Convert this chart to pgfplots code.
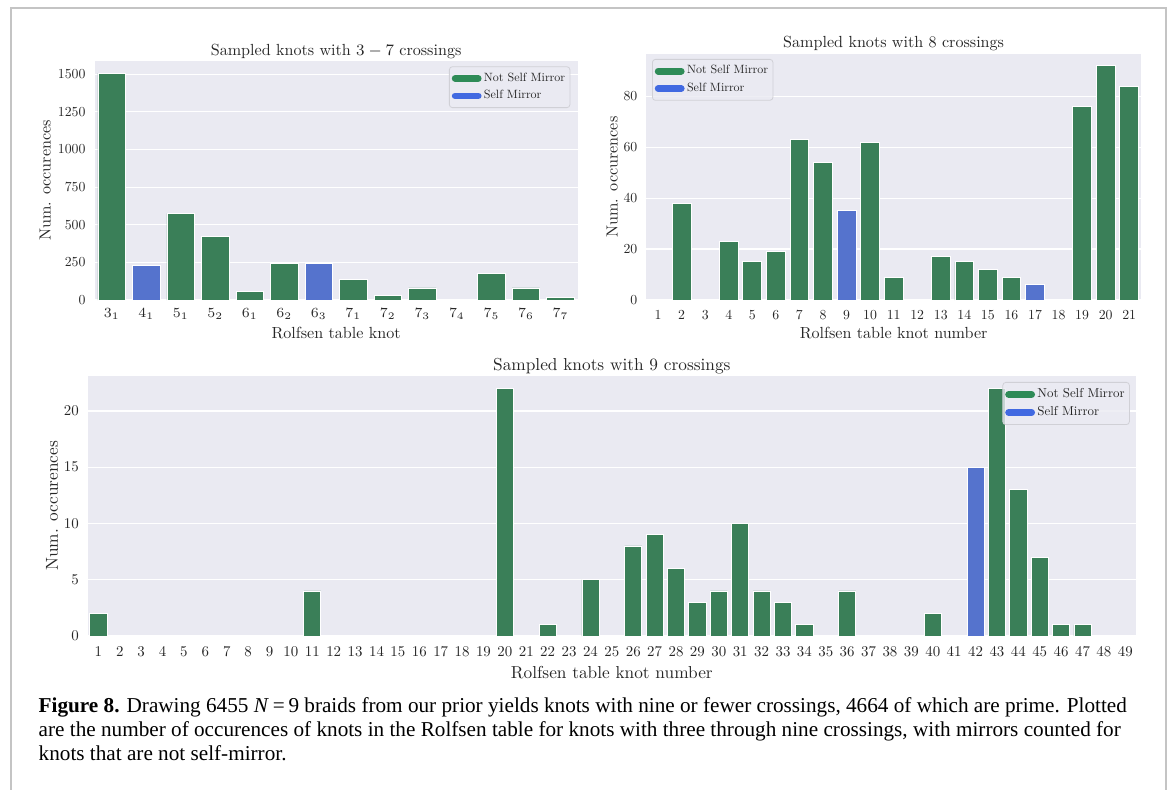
\documentclass[border=0pt]{standalone}
\usepackage{fontspec}
\setmainfont{lmroman10-regular.otf}[BoldFont=lmroman10-bold.otf, ItalicFont=lmroman10-italic.otf]
\newfontfamily\capfont{Liberation Serif}
\usepackage{pgfplots}
\pgfplotsset{compat=1.18}
\definecolor{bg}{HTML}{EAEAF2}
\definecolor{gbar}{HTML}{3A7F58}
\definecolor{bbar}{HTML}{5573CD}
\definecolor{gleg}{HTML}{2E8B57}
\definecolor{bleg}{HTML}{4169E1}
\definecolor{txt}{HTML}{262626}
\definecolor{framec}{HTML}{C4C4C4}
\definecolor{legedge}{HTML}{D0D0D6}
\pgfplotsset{
  legend image code/.code={\draw[#1] (0pt,0pt) -- (11.5pt,0pt);},
  /pgf/number format/1000 sep={},
  every axis title shift=0pt,
  knot/.style={
    scale only axis, enlargelimits=false, ymin=0,
    axis background/.style={fill=bg},
    axis line style={draw=none},
    major tick length=0pt, tick style={draw=none},
    ymajorgrids, grid style={white, line width=0.6pt},
    /pgf/number format/assume math mode=true,
    tick label style={text=txt},
    label style={text=txt},
    title style={text=txt, at={(axis description cs:0.5,1)}, anchor=base, yshift=3pt},
    yticklabel style={anchor=east, inner sep=0pt, xshift=-4.3pt},
    xticklabel style={anchor=base, inner sep=0pt},
    legend cell align=left,
    legend style={draw=legedge, fill=bg, fill opacity=0.8, draw opacity=1, text opacity=1,
      rounded corners=1.5pt, inner xsep=1.2pt, inner ysep=1.8pt, row sep=0.6pt,
      nodes={inner sep=1.2pt}, text=txt,
      /tikz/every even column/.append style={column sep=2pt}},
  },
  gb/.style={ybar, bar width=0.8, bar shift=0pt, fill=gbar, draw=white, line width=0.4pt, forget plot},
  bb/.style={ybar, bar width=0.8, bar shift=0pt, fill=bbar, draw=white, line width=0.4pt, forget plot},
}
\begin{document}
\begin{tikzpicture}
\useasboundingbox (0pt,0pt) rectangle (585pt,-394.5pt);
\draw[framec, line width=0.75pt] (5.5pt,-396pt) -- (5.5pt,-4pt) -- (582.9pt,-4pt) -- (582.9pt,-396pt);

% ---------- Chart 1 ----------
\begin{axis}[knot, at={(47.25pt,-150pt)}, anchor=south west, width=241.6pt, height=119.5pt,
  xmin=-0.5, xmax=13.5, ymax=1588, ytick={0,250,500,750,1000,1250,1500},
  xtick={0,...,13},
  xticklabels={$3_1$,$4_1$,$5_1$,$5_2$,$6_1$,$6_2$,$6_3$,$7_1$,$7_2$,$7_3$,$7_4$,$7_5$,$7_6$,$7_7$},
  tick label style={font=\fontsize{6.9}{8}\selectfont},
  label style={font=\fontsize{8.05}{9.5}\selectfont},
  title style={font=\fontsize{8.05}{9.5}\selectfont},
  title={Sampled knots with $3-7$ crossings},
  xlabel={Rolfsen table knot},
  xlabel style={at={(axis description cs:0.5,0)}, anchor=base, yshift=-19.3pt},
  ylabel={Num. occurences},
  ylabel style={at={(axis description cs:-0.1018,0.5)}, anchor=center},
  xticklabel style={yshift=-8.65pt},
  legend style={at={(axis description cs:0.9847,0.9778)}, anchor=north east, font=\fontsize{6}{7}\selectfont,
    /tikz/every even column/.append style={column sep=3.2pt}},
]
\addplot[gb] table[row sep=\\] {x y\\ 0 1508\\ 2 576\\ 3 422\\ 4 57\\ 5 245\\ 7 139\\ 8 29\\ 9 80\\ 10 2\\ 11 177\\ 12 80\\ 13 15\\};
\addplot[bb] table[row sep=\\] {x y\\ 1 232\\ 6 241\\};
\addlegendimage{gleg, line width=3.4pt, line cap=round}
\addlegendentry{Not Self Mirror}
\addlegendimage{bleg, line width=3.4pt, line cap=round}
\addlegendentry{Self Mirror}
\end{axis}

% ---------- Chart 2 ----------
\begin{axis}[knot, at={(323.15pt,-150pt)}, anchor=south west, width=247.35pt, height=123pt,
  xmin=-0.5, xmax=20.5, ymax=96.6, ytick={0,20,40,60,80},
  xtick={0,...,20},
  xticklabels={1,2,3,4,5,6,7,8,9,10,11,12,13,14,15,16,17,18,19,20,21},
  tick label style={font=\fontsize{6.9}{8}\selectfont},
  label style={font=\fontsize{8.05}{9.5}\selectfont},
  title style={font=\fontsize{8.05}{9.5}\selectfont},
  title={Sampled knots with 8 crossings},
  xlabel={Rolfsen table knot number},
  xlabel style={at={(axis description cs:0.5,0)}, anchor=base, yshift=-19pt},
  ylabel={Num. occurences},
  ylabel style={at={(axis description cs:-0.0687,0.5)}, anchor=center},
  xticklabel style={yshift=-9.65pt},
  legend style={at={(axis description cs:0.0115,0.9797)}, anchor=north west, font=\fontsize{6}{7}\selectfont,
    /tikz/every even column/.append style={column sep=3.2pt}},
]
\addplot[gb] table[row sep=\\] {x y\\ 1 38\\ 3 23\\ 4 15\\ 5 19\\ 6 63\\ 7 54\\ 9 62\\ 10 9\\ 12 17\\ 13 15\\ 14 12\\ 15 9\\ 18 76\\ 19 92\\ 20 84\\};
\addplot[bb] table[row sep=\\] {x y\\ 8 35\\ 16 6\\};
\addlegendimage{gleg, line width=3.4pt, line cap=round}
\addlegendentry{Not Self Mirror}
\addlegendimage{bleg, line width=3.4pt, line cap=round}
\addlegendentry{Self Mirror}
\end{axis}

% ---------- Chart 3 ----------
\begin{axis}[knot, at={(43.85pt,-318pt)}, anchor=south west, width=524.15pt, height=130pt,
  xmin=-0.5, xmax=48.5, ymax=23.1, ytick={0,5,10,15,20},
  xtick={0,...,48},
  xticklabels={1,2,3,4,5,6,7,8,9,10,11,12,13,14,15,16,17,18,19,20,21,22,23,24,25,26,27,28,29,30,31,32,33,34,35,36,37,38,39,40,41,42,43,44,45,46,47,48,49},
  tick label style={font=\fontsize{7.45}{8.5}\selectfont},
  label style={font=\fontsize{8.65}{10}\selectfont},
  title style={font=\fontsize{8.65}{10}\selectfont},
  title={Sampled knots with 9 crossings},
  xlabel={Rolfsen table knot number},
  xlabel style={at={(axis description cs:0.5,0)}, anchor=base, yshift=-21pt},
  ylabel={Num. occurences},
  ylabel style={at={(axis description cs:-0.034,0.5)}, anchor=center},
  xticklabel style={yshift=-10.35pt},
  legend style={at={(axis description cs:0.9941,0.977)}, anchor=north east, font=\fontsize{6.45}{7.5}\selectfont,
    /tikz/every even column/.append style={column sep=3.6pt}},
]
\addplot[gb] table[row sep=\\] {x y\\ 0 2\\ 10 4\\ 19 22\\ 21 1\\ 23 5\\ 25 8\\ 26 9\\ 27 6\\ 28 3\\ 29 4\\ 30 10\\ 31 4\\ 32 3\\ 33 1\\ 35 4\\ 39 2\\ 42 22\\ 43 13\\ 44 7\\ 45 1\\ 46 1\\};
\addplot[bb] table[row sep=\\] {x y\\ 41 15\\};
\addlegendimage{gleg, line width=3.4pt, line cap=round}
\addlegendentry{Not Self Mirror}
\addlegendimage{bleg, line width=3.4pt, line cap=round}
\addlegendentry{Self Mirror}
\end{axis}

% ---------- Caption ----------
\begin{scope}[every node/.style={anchor=base west, inner sep=0pt, text=black}]
\node at (19.15pt,-356pt) {\capfont\fontsize{10.6}{12}\selectfont\textbf{Figure 8.} Drawing 6455 \textit{N}\hspace{0.18em}=\hspace{0.18em}9 braids from our prior yields knots with nine or fewer crossings, 4664 of which are prime. Plotted};
\node at (19.15pt,-368pt) {\capfont\fontsize{10.6}{12}\selectfont are the number of occurences of knots in the Rolfsen table for knots with three through nine crossings, with mirrors counted for};
\node at (19.15pt,-380pt) {\capfont\fontsize{10.6}{12}\selectfont knots that are not self-mirror.};
\end{scope}
\end{tikzpicture}
\end{document}
